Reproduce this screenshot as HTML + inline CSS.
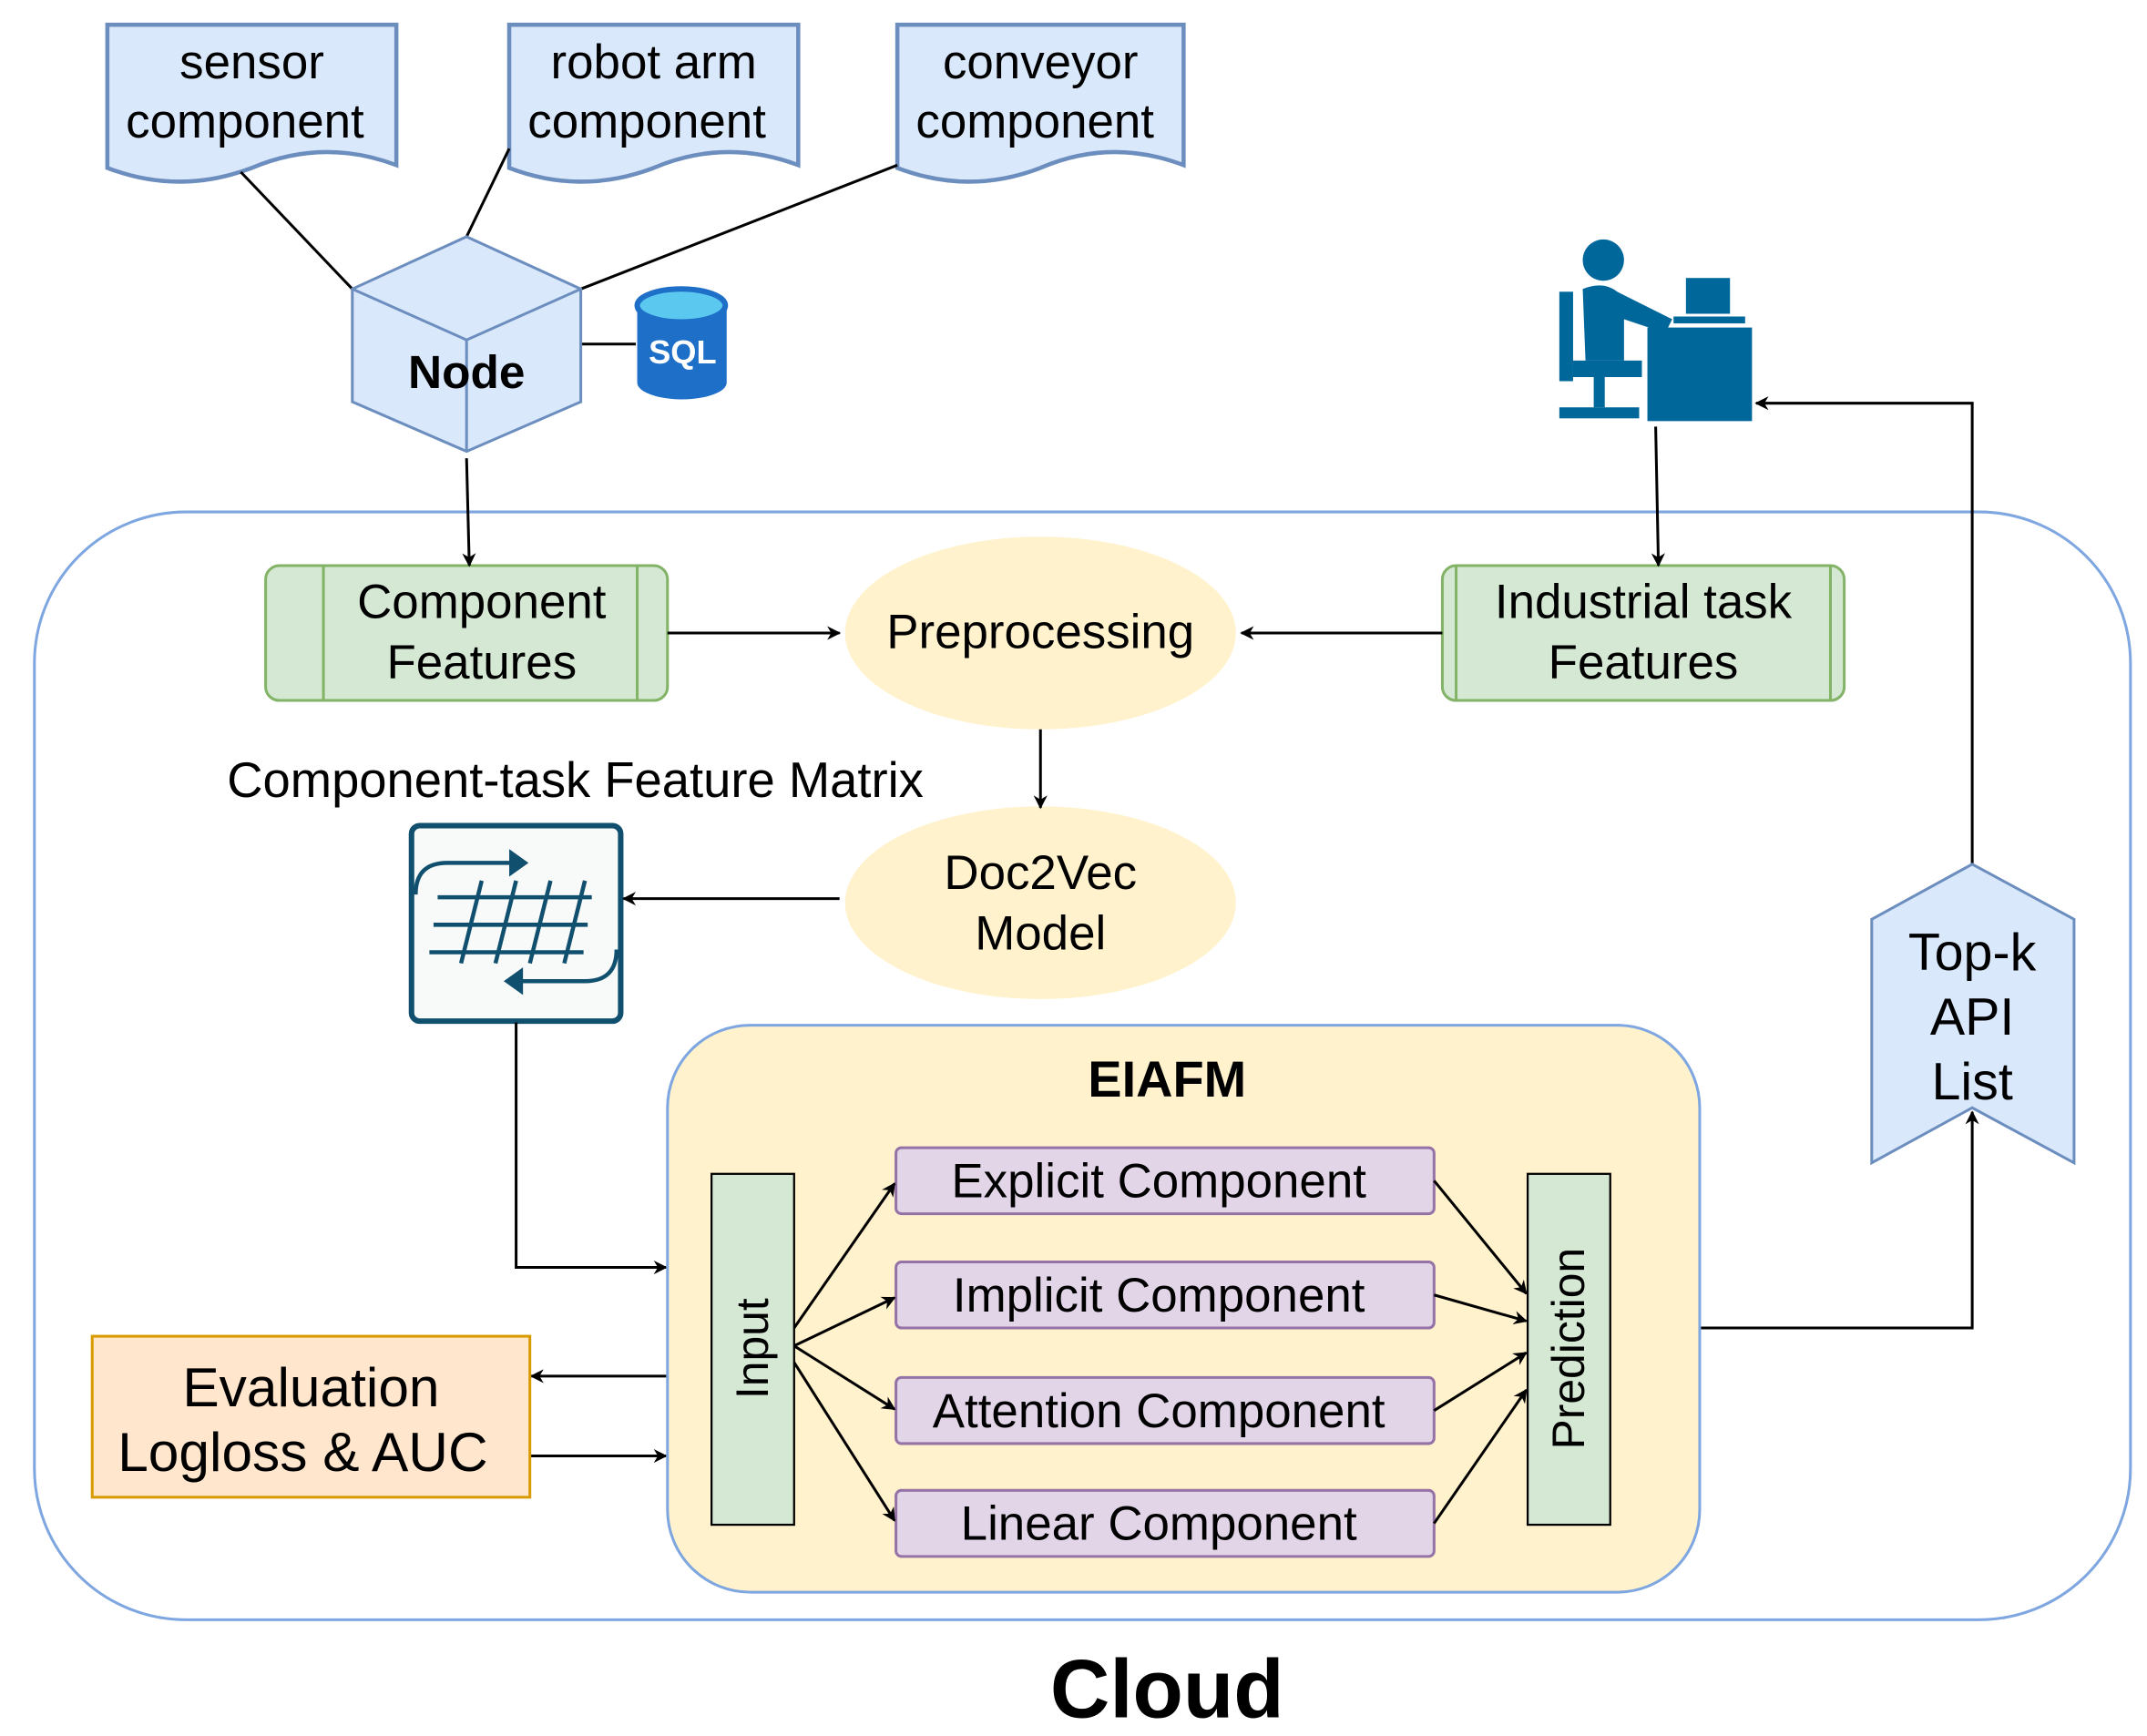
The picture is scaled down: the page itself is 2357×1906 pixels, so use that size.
<!DOCTYPE html>
<html><head><meta charset="utf-8"><style>
html,body{margin:0;padding:0;background:#fff;}
svg{display:block;}
text{font-family:"Liberation Sans",sans-serif;fill:#000;}
</style></head><body>
<svg width="2357" height="1906" viewBox="0 0 1560 1261.5" xmlns="http://www.w3.org/2000/svg">
<defs>
<marker id="a" markerWidth="10" markerHeight="10" refX="9" refY="5" orient="auto" markerUnits="userSpaceOnUse">
<path d="M0,0 L10,5 L0,10 L3,5 Z" fill="#000"/></marker>
</defs>
<rect x="25" y="372" width="1523" height="805" rx="110" fill="none" stroke="#7ea6e0" stroke-width="2"/>
<g fill="#dae8fc" stroke="#6c8ebf" stroke-width="3">
<path d="M78,18 H288 V120 Q235,100 183,122 Q130,142 78,122 Z"/>
<path d="M370,18 H580 V120 Q527,100 475,122 Q422,142 370,122 Z"/>
<path d="M652,18 H860 V120 Q807,100 756,122 Q704,142 652,122 Z"/>
</g>
<g font-size="35" text-anchor="middle">
<text x="183" y="57">sensor</text><text x="178" y="100">component</text>
<text x="475" y="57">robot arm</text><text x="470" y="100">component</text>
<text x="756" y="57">conveyor</text><text x="752" y="100">component</text>
</g>
<g stroke="#000" stroke-width="2" fill="none">
<line x1="175" y1="125" x2="256" y2="210"/>
<line x1="370" y1="108" x2="339" y2="172"/>
<line x1="652" y1="120" x2="422" y2="210"/>
<line x1="422" y1="250" x2="462" y2="250"/>
</g>
<path d="M339,172 L422,210 L422,292 L339,328 L256,292 L256,210 Z" fill="#dae8fc" stroke="#6c8ebf" stroke-width="2"/>
<path d="M256,210 L339,247 L422,210 M339,247 L339,328" fill="none" stroke="#6c8ebf" stroke-width="2"/>
<text x="339" y="282" font-size="34" font-weight="bold" text-anchor="middle">Node</text>
<path d="M463,222 V278 A32,12 0 0 0 528,278 V222 Z" fill="#1e6fc8"/>
<ellipse cx="495" cy="222" rx="32" ry="12" fill="#5bc8f0" stroke="#1e6fc8" stroke-width="4"/>
<text x="496" y="264" font-size="24" font-weight="bold" text-anchor="middle" style="fill:#fff">SQL</text>
<g fill="#00679b">
<circle cx="1165" cy="189" r="15"/>
<path d="M1150,210 Q1165,204 1175,212 L1215,232 L1210,242 L1180,232 L1180,262 L1152,262 Z"/>
<rect x="1133" y="212" width="10" height="65"/>
<rect x="1143" y="262" width="50" height="12"/>
<rect x="1158" y="274" width="8" height="22"/>
<rect x="1133" y="296" width="58" height="8"/>
<rect x="1197" y="238" width="76" height="68"/>
<rect x="1225" y="202" width="32" height="26"/>
<rect x="1216" y="230" width="52" height="5"/>
</g>
<g fill="#d5e8d4" stroke="#82b366" stroke-width="2">
<rect x="193" y="411" width="292" height="98" rx="10"/>
<rect x="1048" y="411" width="292" height="98" rx="10"/>
</g>
<g stroke="#82b366" stroke-width="2">
<line x1="235" y1="411" x2="235" y2="509"/><line x1="463" y1="411" x2="463" y2="509"/>
<line x1="1058" y1="411" x2="1058" y2="509"/><line x1="1330" y1="411" x2="1330" y2="509"/>
</g>
<g font-size="35" text-anchor="middle">
<text x="350" y="449">Component</text><text x="350" y="493">Features</text>
<text x="1194" y="449">Industrial task</text><text x="1194" y="493">Features</text>
</g>
<ellipse cx="756" cy="460" rx="142" ry="70" fill="#fff2cc"/>
<ellipse cx="756" cy="656" rx="142" ry="70" fill="#fff2cc"/>
<g font-size="35" text-anchor="middle">
<text x="756" y="471">Preprocessing</text>
<text x="756" y="646">Doc2Vec</text><text x="756" y="690">Model</text>
</g>
<text x="418" y="579" font-size="36" text-anchor="middle">Component-task Feature Matrix</text>
<rect x="299" y="600" width="152" height="142" rx="6" fill="#f8f9f9" stroke="#10506e" stroke-width="4"/>
<g stroke="#10506e" stroke-width="3" fill="none">
<path d="M302,650 Q302,627 325,627 H375"/><path d="M448,690 Q448,713 425,713 H375"/>
<line x1="318" y1="652" x2="430" y2="652"/><line x1="315" y1="672" x2="427" y2="672"/><line x1="312" y1="692" x2="424" y2="692"/>
<line x1="335" y1="700" x2="350" y2="640"/><line x1="360" y1="700" x2="375" y2="640"/><line x1="385" y1="700" x2="400" y2="640"/><line x1="410" y1="700" x2="425" y2="640"/>
</g>
<path d="M370,617 L384,627 L370,637 Z M380,703 L366,713 L380,723 Z" fill="#10506e"/>
<g stroke="#000" stroke-width="2" fill="none" marker-end="url(#a)">
<line x1="485" y1="460" x2="610" y2="460"/>
<line x1="1048" y1="460" x2="902" y2="460"/>
<line x1="756" y1="530" x2="756" y2="587"/>
<line x1="610" y1="653" x2="453" y2="653"/>
<line x1="339" y1="333" x2="341" y2="411"/>
<line x1="1203" y1="310" x2="1205" y2="411"/>
<polyline points="375,743 375,921 484,921"/>
<line x1="485" y1="1000" x2="386" y2="1000"/>
<line x1="385" y1="1058" x2="484" y2="1058"/>
<polyline points="1235,965 1433,965 1433,808"/>
<polyline points="1433,628 1433,293 1276,293"/>
</g>
<rect x="485" y="745" width="750" height="412" rx="60" fill="#fff2cc" stroke="#7ea6e0" stroke-width="2"/>
<text x="848" y="797" font-size="37" font-weight="bold" text-anchor="middle">EIAFM</text>
<g fill="#d5e8d4" stroke="#000" stroke-width="1.5">
<rect x="517" y="853" width="60" height="255"/><rect x="1110" y="853" width="60" height="255"/>
</g>
<text transform="translate(558,980) rotate(-90)" font-size="33" text-anchor="middle">Input</text>
<text transform="translate(1151,980) rotate(-90)" font-size="33" text-anchor="middle">Prediction</text>
<g fill="#e1d5e7" stroke="#9673a6" stroke-width="2">
<rect x="651" y="834" width="391" height="48" rx="4"/>
<rect x="651" y="917" width="391" height="48" rx="4"/>
<rect x="651" y="1001" width="391" height="48" rx="4"/>
<rect x="651" y="1083" width="391" height="48" rx="4"/>
</g>
<g font-size="35" text-anchor="middle">
<text x="842" y="870">Explicit Component</text>
<text x="842" y="953">Implicit Component</text>
<text x="842" y="1037">Attention Component</text>
<text x="842" y="1119">Linear Component</text>
</g>
<g stroke="#000" stroke-width="2" fill="none" marker-end="url(#a)">
<line x1="577" y1="965" x2="650" y2="860"/>
<line x1="577" y1="978" x2="650" y2="943"/>
<line x1="577" y1="978" x2="650" y2="1024"/>
<line x1="577" y1="990" x2="650" y2="1105"/>
<line x1="1042" y1="858" x2="1109" y2="940"/>
<line x1="1042" y1="941" x2="1109" y2="960"/>
<line x1="1042" y1="1025" x2="1109" y2="983"/>
<line x1="1042" y1="1107" x2="1109" y2="1010"/>
</g>
<rect x="67" y="971" width="318" height="117" fill="#ffe6cc" stroke="#d79b00" stroke-width="2"/>
<g font-size="40" text-anchor="middle">
<text x="226" y="1022">Evaluation</text><text x="220" y="1069">Logloss &amp; AUC</text>
</g>
<path d="M1360,668 L1433,628 L1507,668 L1507,845 L1433,805 L1360,845 Z" fill="#dae8fc" stroke="#6c8ebf" stroke-width="2"/>
<g font-size="38" text-anchor="middle">
<text x="1433" y="705">Top-k</text><text x="1433" y="752">API</text><text x="1433" y="799">List</text>
</g>
<text x="848" y="1248" font-size="60" font-weight="bold" text-anchor="middle">Cloud</text>
</svg>
</body></html>
